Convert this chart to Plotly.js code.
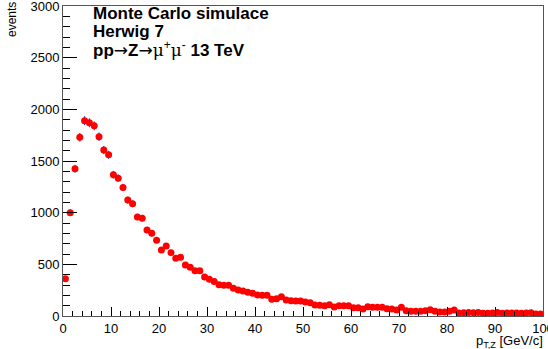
<!DOCTYPE html>
<html>
<head>
<meta charset="utf-8">
<script src="https://cdn.plot.ly/plotly-3.0.1.min.js"></script>
<style>html,body{margin:0;padding:0;background:#fff;}#chart{width:548px;height:349px;}</style>
</head>
<body>
<div id="chart"></div>
<script>
// bin centres (GeV/c), 1 GeV bins from 0 to 100
const binCenters = [];
for (let i = 0; i < 100; i++) binCenters.push(i + 0.5);

// events per bin
const events = [
  360, 1000, 1425, 1730, 1890, 1870, 1840, 1735, 1606, 1560,
  1367, 1334, 1244, 1122, 1086, 958, 945, 832, 800, 733,
  639, 677, 613, 558, 568, 494, 471, 439, 439, 377,
  355, 335, 302, 297, 297, 268, 252, 242, 229, 219,
  203, 200, 200, 161, 168, 187, 155, 147, 145, 145,
  135, 129, 106, 103, 100, 110, 87, 100, 100, 100,
  81, 81, 68, 90, 84, 84, 84, 71, 68, 58,
  84, 51, 45, 45, 45, 51, 61, 45, 39, 39,
  45, 58, 28, 32, 35, 32, 35, 26, 26, 30,
  35, 26, 28, 30, 28, 26, 29, 32, 20, 19
];

const xTickVals = [0, 10, 20, 30, 40, 50, 60, 70, 80, 90, 100];
const yTickVals = [0, 500, 1000, 1500, 2000, 2500, 3000];

const ARROW = "<span style=\"font-family:'DejaVu Sans';font-weight:normal\">→</span>";
const MU = "<span style=\"font-family:'DejaVu Serif';font-weight:normal\">μ</span>";
const legendLines = [
  "<b>Monte Carlo simulace</b>",
  "<b>Herwig 7</b>",
  "<b>pp</b>" + ARROW + "<b>Z</b>" + ARROW + MU + "<sup>+</sup>" + MU + "<sup>-</sup><b> 13 TeV</b>"
];
const yTitle = "events";
const xTitle = "p<sub>T,Z</sub> [GeV/c]";

const W = 548, H = 349;
const mL = 63, mR = 5, mT = 6, mB = 33;
const pw = W - mL - mR, ph = H - mT - mB;
const px = x => (x - mL) / pw;
const py = y => (H - mB - y) / ph;

const trace = {
  type: 'scatter',
  mode: 'markers',
  x: binCenters,
  y: events,
  marker: {color: '#ff0000', size: 7, symbol: 'circle'},
  error_y: {type: 'sqrt', visible: true, color: '#1f1fd0', thickness: 1, width: 0},
  hoverinfo: 'x+y'
};

const fam = '"Liberation Sans", Arial, sans-serif';

const annotations = [];
const lineY = [14, 31, 49];
legendLines.forEach((t, i) => {
  annotations.push({
    text: t, xref: 'paper', yref: 'paper', x: px(91), y: py(lineY[i]),
    xanchor: 'left', yanchor: 'middle', showarrow: false,
    font: {family: fam, size: 17, color: '#000'}
  });
});
annotations.push({
  text: yTitle, xref: 'paper', yref: 'paper', x: px(12), y: py(20),
  xanchor: 'center', yanchor: 'middle', textangle: -90, showarrow: false,
  font: {family: fam, size: 12, color: '#000'}
});
annotations.push({
  text: xTitle, xref: 'paper', yref: 'paper', x: px(545), y: py(341),
  xanchor: 'right', yanchor: 'middle', showarrow: false,
  font: {family: fam, size: 13, color: '#000'}
});

const layout = {
  width: W, height: H,
  margin: {l: mL, r: mR, t: mT, b: mB, pad: 0},
  paper_bgcolor: '#fff', plot_bgcolor: '#fff',
  showlegend: false,
  font: {family: fam, size: 13, color: '#000'},
  xaxis: {
    range: [0, 100], tickmode: 'array', tickvals: xTickVals,
    ticktext: xTickVals.map(String),
    ticks: 'inside', ticklen: 9, tickcolor: '#000', tickwidth: 1,
    minor: {dtick: 2, tick0: 0, ticks: 'inside', ticklen: 5, tickcolor: '#000', showgrid: false},
    showgrid: false, zeroline: false,
    showline: true, linecolor: '#555', linewidth: 1, mirror: true,
    ticklabeloverflow: 'allow',
    tickfont: {family: fam, size: 13, color: '#000'}
  },
  yaxis: {
    range: [0, 3000], tickmode: 'array', tickvals: yTickVals,
    ticktext: yTickVals.map(String),
    ticks: 'inside', ticklen: 14, tickcolor: '#000', tickwidth: 1,
    minor: {dtick: 100, tick0: 0, ticks: 'inside', ticklen: 7, tickcolor: '#000', showgrid: false},
    showgrid: false, zeroline: false,
    showline: true, linecolor: '#555', linewidth: 1, mirror: true,
    ticklabeloverflow: 'allow',
    tickfont: {family: fam, size: 13, color: '#000'}
  },
  annotations: annotations
};

Plotly.newPlot('chart', [trace], layout, {displayModeBar: false, staticPlot: true});
</script>
</body>
</html>
